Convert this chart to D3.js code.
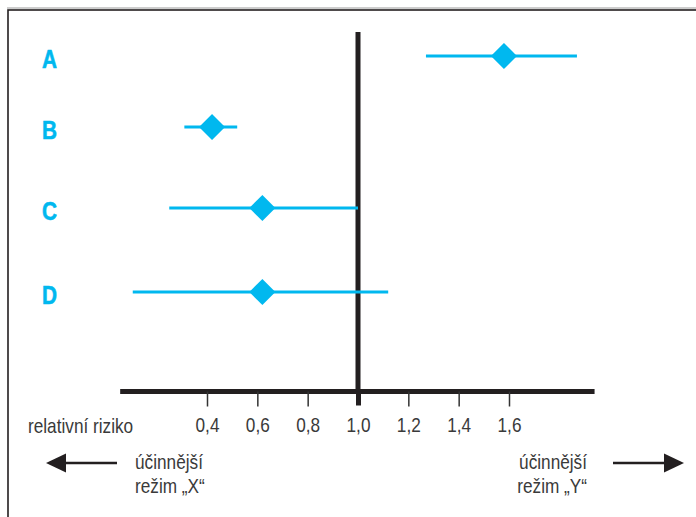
<!DOCTYPE html>
<html><head><meta charset="utf-8">
<script src="https://cdn.jsdelivr.net/npm/d3@7/dist/d3.min.js"></script>
<style>html,body{margin:0;padding:0;background:#fff;}svg{display:block;}</style>
</head><body>
<svg id="chart" width="696" height="517"></svg>
<script>
const categories = ["A", "B", "C", "D"];
const estimates = [1.58, 0.42, 0.62, 0.62];
const lowerCI = [1.27, 0.31, 0.25, 0.105];
const upperCI = [1.87, 0.52, 1.0, 1.12];
const tickValues = [0.4, 0.6, 0.8, 1.0, 1.2, 1.4, 1.6];
const tickLabels = ["0,4", "0,6", "0,8", "1,0", "1,2", "1,4", "1,6"];
const axisTitle = "relativní riziko";
const leftNote = ["účinnější", "režim „X“"];
const rightNote = ["účinnější", "režim „Y“"];

const cyan = "#00b8ef";
const ink = "#231f20";
const txt = "#3a3a3a";
const font = "Liberation Sans, Arial, sans-serif";
const fs = 21;
const sx = 0.82;
const svg = d3.select("#chart");

// frame
svg.append("line").attr("x1", 7).attr("x2", 700).attr("y1", 8).attr("y2", 8).attr("stroke", "#9a9a9a").attr("stroke-width", 1);
svg.append("rect").attr("x", 8).attr("y", 10).attr("width", 720).attr("height", 540)
  .attr("fill", "none").attr("stroke", ink).attr("stroke-width", 1.6);

const x = d3.scaleLinear().domain([1.0, 1.6]).range([358, 509]);
const yPos = { A: 56, B: 127, C: 208, D: 292 };
const axisY = 391.5;

// vertical reference line at 1.0
svg.append("line").attr("x1", x(1.0)).attr("x2", x(1.0)).attr("y1", 32).attr("y2", axisY + 2)
  .attr("stroke", ink).attr("stroke-width", 5);

// horizontal axis line
svg.append("line").attr("x1", x(0.055)).attr("x2", x(1.94)).attr("y1", axisY).attr("y2", axisY)
  .attr("stroke", ink).attr("stroke-width", 5);

// ticks via d3 axis
const axis = d3.axisBottom(x).tickValues(tickValues)
  .tickFormat((d, i) => tickLabels[i]).tickSizeInner(15).tickSizeOuter(0).tickPadding(11);
const ax = svg.append("g").attr("transform", `translate(0,${axisY})`).call(axis);
ax.select(".domain").remove();
ax.selectAll(".tick line").attr("stroke", "#333").attr("stroke-width", 1.5);
ax.selectAll(".tick").filter(d => d === 1.0).select("line").attr("stroke-width", 5).attr("stroke", ink).attr("y2", 14);
ax.selectAll(".tick text").attr("font-family", font).attr("font-size", fs).attr("fill", txt)
  .attr("transform", `scale(${sx},1)`);

function label(t, px, py, anchor) {
  svg.append("text").attr("transform", `translate(${px},${py}) scale(${sx},1)`)
    .attr("text-anchor", anchor || "start").text(t)
    .attr("font-family", font).attr("font-size", fs).attr("fill", txt);
}
// axis title
label(axisTitle, 28, 433);
// notes
leftNote.forEach((t, i) => label(t, 135, 469 + i * 24));
rightNote.forEach((t, i) => label(t, 587, 469 + i * 24, "end"));

// arrows
function arrow(x1, x2, yy) {
  const dir = Math.sign(x2 - x1);
  svg.append("line").attr("x1", x1).attr("x2", x2 - dir * 16).attr("y1", yy).attr("y2", yy)
    .attr("stroke", ink).attr("stroke-width", 2.5);
  svg.append("path").attr("d", `M${x2},${yy} L${x2 - dir * 20},${yy - 9.5} L${x2 - dir * 20},${yy + 9.5} Z`)
    .attr("fill", ink);
}
arrow(117, 46, 463);
arrow(613, 684, 463);

// data rows
const rows = categories.map((c, i) => ({ c, est: estimates[i], lo: lowerCI[i], hi: upperCI[i] }));
const g = svg.append("g");
g.selectAll(".ci").data(rows).join("line")
  .attr("x1", d => x(d.lo)).attr("x2", d => x(d.hi))
  .attr("y1", d => yPos[d.c]).attr("y2", d => yPos[d.c])
  .attr("stroke", cyan).attr("stroke-width", 3);
g.selectAll(".pt").data(rows).join("path")
  .attr("d", d => { const cx = x(d.est), cy = yPos[d.c], r = 13;
    return `M${cx},${cy - r} L${cx + r},${cy} L${cx},${cy + r} L${cx - r},${cy} Z`; })
  .attr("fill", cyan);

// category labels
svg.selectAll(".lab").data(rows).join("text")
  .attr("transform", d => `translate(42,${yPos[d.c] + 12}) scale(0.8,1)`).text(d => d.c)
  .attr("font-family", font)
  .attr("font-weight", "bold").attr("font-size", 26).attr("fill", cyan)
  .attr("stroke", cyan).attr("stroke-width", 0.6);
</script>
</body></html>
